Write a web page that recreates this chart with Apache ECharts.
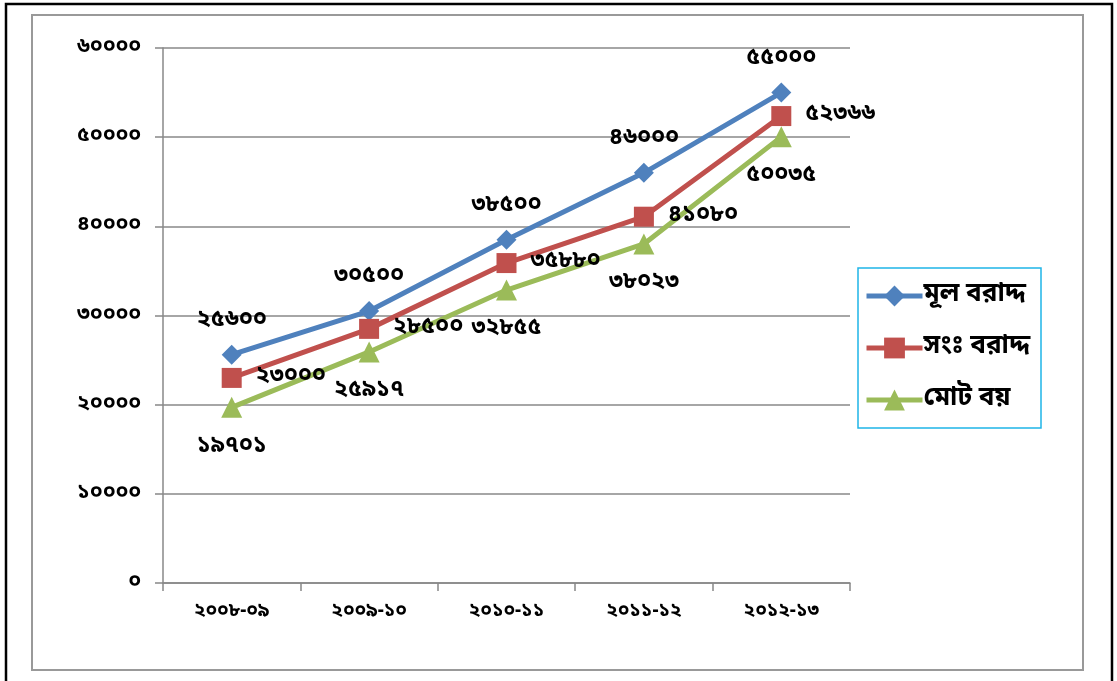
<!DOCTYPE html>
<html><head><meta charset="utf-8">
<script src="https://cdn.jsdelivr.net/npm/echarts@6/dist/echarts.min.js"></script>
<style>html,body{margin:0;padding:0;background:#fff}#c{width:1117px;height:681px}</style>
</head><body><div id="c"></div>
<script>
const categories = ['২০০৮-০৯','২০০৯-১০','২০১০-১১','২০১১-১২','২০১২-১৩'];
const seriesNames = ['মূল বরাদ্দ','সংঃ বরাদ্দ','মোট বয়'];
const original = [25600, 30500, 38500, 46000, 55000];
const revised = [23000, 28500, 35880, 41080, 52366];
const spent = [19701, 25917, 32855, 38023, 50035];
const bnDigits = ['০','১','২','৩','৪','৫','৬','৭','৮','৯'];
function bn(v){return String(v).replace(/[0-9]/g,d=>bnDigits[+d]);}
const FONT = '"Noto Sans Bengali","Lohit Bengali","Noto Serif Bengali","FreeSans",sans-serif';
const lbl = (pos,dist)=>({show:true,position:pos,distance:dist,color:'#000',fontFamily:FONT,fontWeight:'bold',fontSize:23,formatter:p=>bn(p.value)});
const chart = echarts.init(document.getElementById('c'));
chart.setOption({
  animation:false,
  backgroundColor:'#fff',
  graphic:[
    {type:'rect',shape:{x:6,y:4,width:1106,height:700},style:{fill:'none',stroke:'#000',lineWidth:2.5},silent:true},
    {type:'rect',shape:{x:32,y:15,width:1051,height:655},style:{fill:'none',stroke:'#999',lineWidth:2},silent:true},
    {type:'rect',shape:{x:858,y:268,width:183,height:160},style:{fill:'none',stroke:'#1fb5e8',lineWidth:1.5},silent:true}
  ],
  grid:{left:163,right:267,top:48,bottom:98},
  legend:{
    orient:'vertical',left:864,top:283,
    padding:0,itemGap:26,
    itemWidth:56,itemHeight:26,
    lineStyle:{width:5},
    textStyle:{fontFamily:FONT,fontWeight:'bold',fontSize:26,color:'#000',padding:[0,0,0,-4]},
    data:seriesNames
  },
  xAxis:{type:'category',data:categories,boundaryGap:true,
    axisLine:{lineStyle:{color:'#888',width:1.5}},
    axisTick:{show:true,length:8,lineStyle:{color:'#888',width:1.5}},
    axisLabel:{margin:20,color:'#000',fontFamily:FONT,fontWeight:'bold',fontSize:19,formatter:v=>bn(v)}},
  yAxis:{type:'value',min:0,max:60000,interval:10000,
    axisLine:{show:true,lineStyle:{color:'#888',width:1.5}},
    axisTick:{show:true,length:8,lineStyle:{color:'#888',width:1.5}},
    splitLine:{lineStyle:{color:'#888',width:1.5}},
    axisLabel:{margin:22,color:'#000',fontFamily:FONT,fontWeight:'bold',fontSize:21,formatter:v=>bn(v)}},
  series:[
    {name:seriesNames[0],type:'line',data:original,color:'#4f81bd',lineStyle:{width:5},symbol:'diamond',symbolSize:20,label:lbl('top',12)},
    {name:seriesNames[1],type:'line',data:revised,color:'#c0504d',lineStyle:{width:5},symbol:'rect',symbolSize:20,label:lbl('right',14)},
    {name:seriesNames[2],type:'line',data:spent,color:'#9bbb59',lineStyle:{width:5},symbol:'triangle',symbolSize:21,label:lbl('bottom',18)}
  ]
});
</script></body></html>
